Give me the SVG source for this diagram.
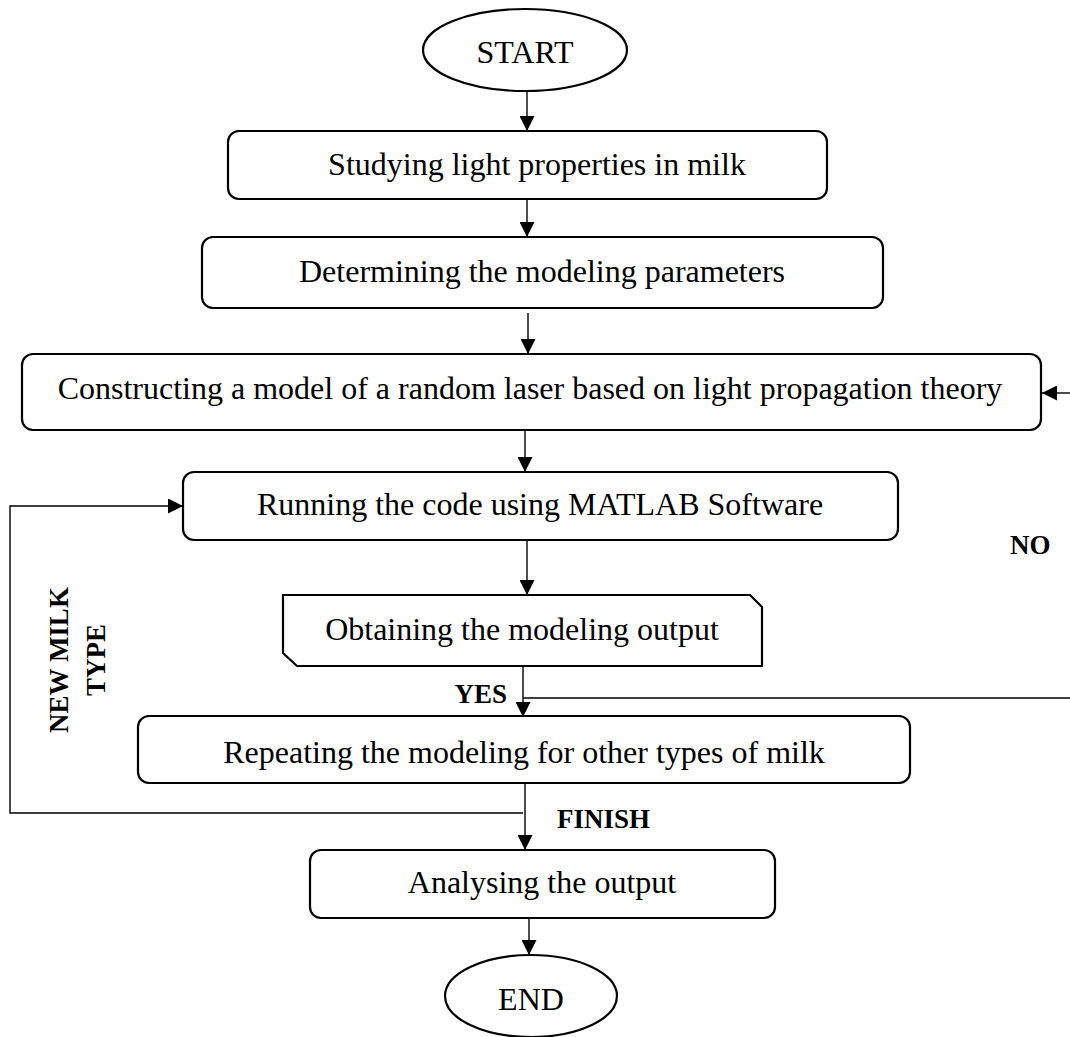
<svg xmlns="http://www.w3.org/2000/svg" width="1070" height="1037" viewBox="0 0 1070 1037">
<defs>
<style>
.n{fill:#fff;stroke:#000;stroke-width:2.2}
.t{font-family:"Liberation Serif","Times New Roman",serif;font-size:32px;fill:#000;text-anchor:middle}
.b{font-family:"Liberation Serif","Times New Roman",serif;font-size:27px;font-weight:bold;fill:#000}
.c{fill:none;stroke:#000;stroke-width:1.4}
</style>
<marker id="ah" viewBox="0 0 10 10" refX="10" refY="5" markerWidth="15" markerHeight="15" markerUnits="userSpaceOnUse" orient="auto">
<path d="M0,0 L10,5 L0,10 Z" fill="#000"/>
</marker>
</defs>
<rect width="1070" height="1037" fill="#fff"/>
<g id="connectors">
<line class="c" x1="527" y1="92" x2="527" y2="131" marker-end="url(#ah)"/>
<line class="c" x1="527" y1="200" x2="527" y2="237" marker-end="url(#ah)"/>
<line class="c" x1="528" y1="313" x2="528" y2="354" marker-end="url(#ah)"/>
<line class="c" x1="525" y1="431" x2="525" y2="472" marker-end="url(#ah)"/>
<line class="c" x1="527" y1="541" x2="527" y2="595" marker-end="url(#ah)"/>
<line class="c" x1="523" y1="666" x2="523" y2="717" marker-end="url(#ah)"/>
<line class="c" x1="523" y1="698" x2="1070" y2="698"/>
<line class="c" x1="1070" y1="393" x2="1042" y2="393" marker-end="url(#ah)"/>
<line class="c" x1="525" y1="784" x2="525" y2="850" marker-end="url(#ah)"/>
<polyline class="c" points="523,813 10,813 10,506 183,506" marker-end="url(#ah)"/>
<line class="c" x1="529" y1="918" x2="529" y2="955" marker-end="url(#ah)"/>
</g>
<g id="start">
<ellipse class="n" cx="525" cy="50" rx="102" ry="41"/>
<text class="t" x="525" y="63">START</text>
</g>
<g id="box1">
<rect class="n" x="228" y="131" width="599" height="68" rx="11"/>
<text class="t" x="537" y="175">Studying light properties in milk</text>
</g>
<g id="box2">
<rect class="n" x="202" y="237" width="681" height="71" rx="11"/>
<text class="t" x="542" y="282">Determining the modeling parameters</text>
</g>
<g id="box3">
<rect class="n" x="22" y="354" width="1019" height="76" rx="11"/>
<text class="t" x="530" y="399">Constructing a model of a random laser based on light propagation theory</text>
</g>
<g id="box4">
<rect class="n" x="183" y="472" width="715" height="68" rx="11"/>
<text class="t" x="540" y="515">Running the code using MATLAB Software</text>
</g>
<g id="box5">
<polygon class="n" points="283,595 750,595 762,607 762,666 297,666 283,653"/>
<text class="t" x="522" y="640">Obtaining the modeling output</text>
</g>
<g id="box6">
<rect class="n" x="138" y="716" width="772" height="67" rx="11"/>
<text class="t" x="524" y="763">Repeating the modeling for other types of milk</text>
</g>
<g id="box7">
<rect class="n" x="310" y="850" width="465" height="68" rx="11"/>
<text class="t" x="542" y="893">Analysing the output</text>
</g>
<g id="end">
<ellipse class="n" cx="531" cy="996" rx="86" ry="41"/>
<text class="t" x="531" y="1010">END</text>
</g>
<g id="labels">
<text class="b" x="507" y="703" text-anchor="end">YES</text>
<text class="b" x="1010" y="554">NO</text>
<text class="b" x="557" y="828">FINISH</text>
<text class="b" text-anchor="middle" transform="translate(68,660) rotate(-90)">NEW MILK</text>
<text class="b" text-anchor="middle" transform="translate(105,660) rotate(-90)">TYPE</text>
</g>
</svg>
